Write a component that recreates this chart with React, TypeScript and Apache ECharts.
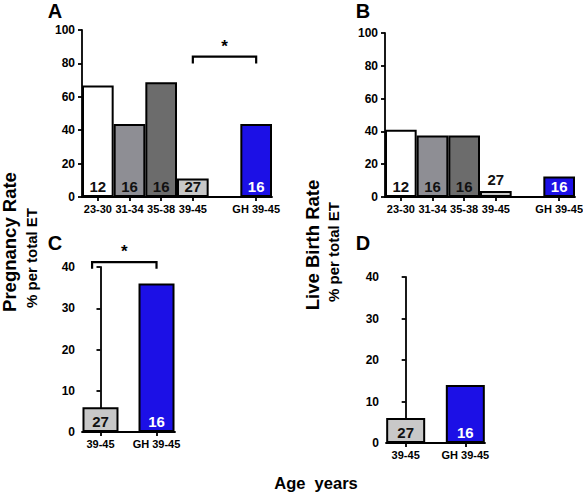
import React, { useEffect, useRef } from "react";
import * as echarts from "echarts";

// Age groups (women's age, years) and outcomes per total embryo transfer
const ageGroups = ["23-30", "31-34", "35-38", "39-45", "", "GH 39-45"];
const pregnancyRate = [66.7, 43.75, 68.75, 11.1, null, 43.75];
const liveBirthRate = [41, 37.5, 37.5, 3.7, null, 12.5];
const groupSizes = [12, 16, 16, 27, null, 16];

// Older women only: untreated vs growth hormone
const olderGroups = ["39-45", "GH 39-45"];
const olderPositions = [0, 1];
const olderPregnancyRate = [6, 36];
const olderLiveBirthRate = [6, 14];
const olderGroupSizes = [27, 16];

const ticks100 = { max: 100, interval: 20 };
const ticks40 = { max: 40, interval: 10 };

const FONT = '"Liberation Sans", Arial, Helvetica, sans-serif';
const BLUE = "#1c10e6";
const groupColors = ["#ffffff", "#8e8e94", "#6c6c6c", "#c8c8c8", "#ffffff", BLUE];
const olderColors = ["#c8c8c8", BLUE];

const axisLineStyle = { color: "#000", width: 1.8 };

function valueYAxis(gridIndex: number, t: { max: number; interval: number }) {
  return {
    type: "value",
    gridIndex,
    min: 0,
    max: t.max,
    interval: t.interval,
    axisLine: { show: true, lineStyle: axisLineStyle },
    axisTick: { show: true, length: 4, lineStyle: axisLineStyle },
    axisLabel: { color: "#000", fontWeight: "bold", fontSize: 12, fontFamily: FONT, margin: 7 },
    splitLine: { show: false },
  };
}

function groupXAxis(gridIndex: number) {
  return {
    type: "category",
    gridIndex,
    data: ageGroups,
    axisLine: { show: true, lineStyle: axisLineStyle },
    axisTick: {
      show: true,
      alignWithLabel: true,
      length: 4,
      interval: (_i: number, v: string) => v !== "",
      lineStyle: axisLineStyle,
    },
    axisLabel: { interval: 0, color: "#000", fontWeight: "bold", fontSize: 11, fontFamily: FONT, margin: 6 },
    splitLine: { show: false },
  };
}

function olderXAxis(gridIndex: number) {
  return {
    type: "value",
    gridIndex,
    min: -0.33,
    max: 1.33,
    axisLine: { show: true, lineStyle: axisLineStyle },
    axisTick: { show: true, length: 4, customValues: olderPositions, lineStyle: axisLineStyle },
    axisLabel: {
      customValues: olderPositions,
      formatter: (v: number) => olderGroups[Math.round(v)] ?? "",
      color: "#000",
      fontWeight: "bold",
      fontSize: 11,
      fontFamily: FONT,
      margin: 6,
    },
    splitLine: { show: false },
  };
}

function sizeLabel(n: number | null, value: number | null, onBlue: boolean) {
  const small = value !== null && value < 5 && !onBlue;
  return {
    show: n !== null,
    position: small ? "top" : "insideBottom",
    distance: small ? 4 : 3,
    formatter: () => (n === null ? "" : String(n)),
    color: onBlue ? "#fff" : "#111",
    fontWeight: "bold",
    fontSize: 15,
    fontFamily: FONT,
  };
}

function groupBars(idx: number, values: (number | null)[]) {
  return {
    type: "bar",
    xAxisIndex: idx,
    yAxisIndex: idx,
    barCategoryGap: "0%",
    data: values.map((v, i) => ({
      value: v === null ? "-" : v,
      itemStyle: { color: groupColors[i], borderColor: "#000", borderWidth: 2 },
      label: sizeLabel(groupSizes[i], v, groupColors[i] === BLUE),
    })),
  };
}

function olderBars(idx: number, values: number[], width: number) {
  return {
    type: "bar",
    xAxisIndex: idx,
    yAxisIndex: idx,
    barWidth: width,
    data: values.map((v, i) => ({
      value: [olderPositions[i], v],
      itemStyle: { color: olderColors[i], borderColor: "#000", borderWidth: 2 },
      label: sizeLabel(olderGroupSizes[i], v, olderColors[i] === BLUE),
    })),
  };
}

// Significance bracket: [x start, x end, bracket level, foot level]
function bracket(idx: number, spec: number[]) {
  return {
    type: "custom",
    xAxisIndex: idx,
    yAxisIndex: idx,
    clip: false,
    silent: true,
    encode: { x: [0, 1], y: [2, 3] },
    data: [spec],
    renderItem: (_p: any, api: any) => {
      const a = api.coord([api.value(0), api.value(2)]);
      const b = api.coord([api.value(1), api.value(2)]);
      const foot = api.coord([api.value(0), api.value(3)])[1];
      return {
        type: "group",
        children: [
          {
            type: "polyline",
            shape: { points: [[a[0], foot], [a[0], a[1]], [b[0], b[1]], [b[0], foot]] },
            style: { stroke: "#000", lineWidth: 2.2, fill: null },
          },
          {
            type: "text",
            x: (a[0] + b[0]) / 2,
            y: a[1] - 2,
            style: {
              text: "*",
              fill: "#000",
              font: `bold 17px ${FONT}`,
              align: "center",
              verticalAlign: "bottom",
            },
          },
        ],
      };
    },
  };
}

function panelLetter(text: string, x: number, y: number) {
  return {
    type: "text",
    x,
    y,
    style: { text, fill: "#000", font: `bold 20px ${FONT}`, align: "center", verticalAlign: "middle" },
  };
}

function sideTitle(text: string, x: number, y: number, size: number) {
  return {
    type: "text",
    x,
    y,
    rotation: Math.PI / 2,
    style: { text, fill: "#000", font: `bold ${size}px ${FONT}`, align: "center", verticalAlign: "middle" },
  };
}

export default function App() {
  const ref = useRef<HTMLDivElement>(null);

  useEffect(() => {
    if (!ref.current) return;
    const chart = echarts.init(ref.current, null, { renderer: "svg" });
    const grid = (left: number, top: number, width: number, height: number) => ({
      left,
      top,
      width,
      height,
      containLabel: false,
      outerBoundsMode: "none",
    });
    chart.setOption({
      animation: false,
      backgroundColor: "#fff",
      textStyle: { fontFamily: FONT },
      grid: [
        grid(82, 30, 190, 167),
        grid(385, 33, 190, 164),
        grid(82, 267, 93, 165),
        grid(386, 277, 99, 166),
      ],
      xAxis: [groupXAxis(0), groupXAxis(1), olderXAxis(2), olderXAxis(3)],
      yAxis: [valueYAxis(0, ticks100), valueYAxis(1, ticks100), valueYAxis(2, ticks40), valueYAxis(3, ticks40)],
      series: [
        groupBars(0, pregnancyRate),
        groupBars(1, liveBirthRate),
        olderBars(2, olderPregnancyRate, 36),
        olderBars(3, olderLiveBirthRate, 39),
        bracket(0, [3, 5, 84, 80]),
        bracket(2, [-0.15, 1, 41.2, 39.6]),
      ],
      graphic: [
        panelLetter("A", 55, 11),
        panelLetter("B", 363, 11),
        panelLetter("C", 55, 243),
        panelLetter("D", 363, 243),
        sideTitle("Pregnancy Rate", 9, 242, 18.5),
        sideTitle("% per total ET", 31, 258, 15),
        sideTitle("Live Birth Rate", 312, 245, 18.5),
        sideTitle("% per total ET", 333, 252, 15),
        {
          type: "text",
          x: 316,
          y: 483,
          style: { text: "Age  years", fill: "#000", font: `bold 16.5px ${FONT}`, align: "center", verticalAlign: "middle" },
        },
      ],
    });
    return () => chart.dispose();
  }, []);

  return (
    <div
      ref={ref}
      style={{ position: "absolute", left: 0, top: 0, width: 583, height: 494, background: "#fff" }}
    />
  );
}
